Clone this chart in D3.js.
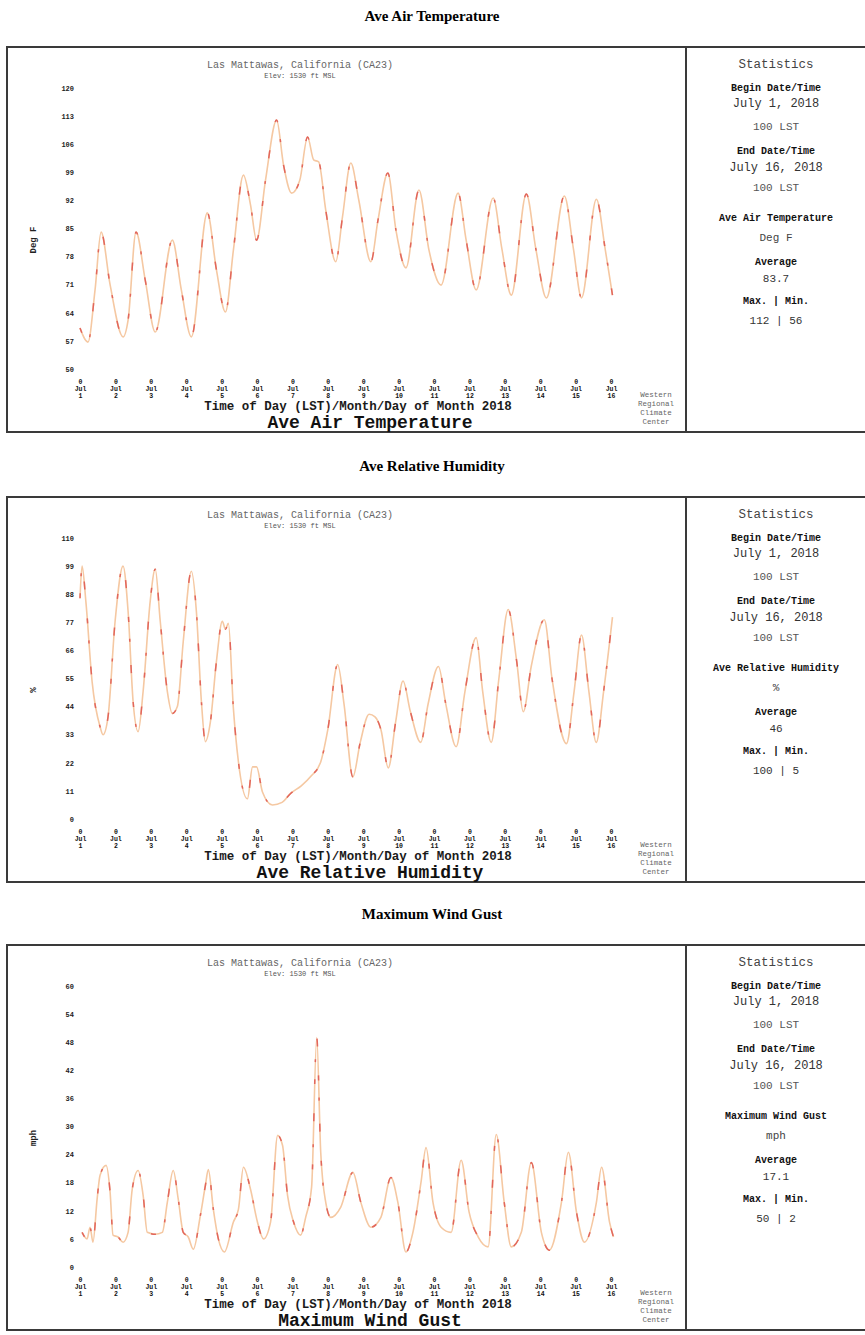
<!DOCTYPE html>
<html><head><meta charset="utf-8">
<script src="https://cdn.jsdelivr.net/npm/d3@7"></script>
<style>
html,body{margin:0;padding:0;background:#fff;}
svg{display:block;}
</style></head>
<body><svg id="c" width="865" height="1335"></svg>
<script>
// ---------- data ----------
const dayLabels = d3.range(1, 17);            // Jul 1 .. Jul 16
const dayHours = d3.range(0, 361, 24);        // hours since Jul 1 00:00
const monthLabel = "Jul";
const hourLabel = "0";

const tempTicks = [50, 57, 64, 71, 78, 85, 92, 99, 106, 113, 120];
const rhTicks = [0, 11, 22, 33, 44, 55, 66, 77, 88, 99, 110];
const windTicks = [0, 6, 12, 18, 24, 30, 36, 42, 48, 54, 60];

const tempHours = [0,5.4,10.2,14.3,20.4,29.2,32.6,38,44.2,51,62.6,68.7,75.5,86.3,92.5,98.6,104,110.8,115.6,119.7,125.8,133.3,138,143.5,149,154.3,158.4,161.8,166.6,173.4,178,183.6,189,197.2,202,208.7,214.2,221,229.8,236.6,244.8,256.3,261.8,268.6,280.1,286,292.4,302.6,309,316.2,328.4,334.5,340,350.1,356,361];
const tempValues = [60.2,56.7,69.7,84.1,71,58,62.2,84.1,72.2,59.2,82.1,69.7,58,88.9,74.7,64.2,79.6,98.3,90.9,82.1,97.1,112,100.8,93.8,97,107.8,102.1,101.6,89.6,76.7,88,101.3,92.1,76.7,87,98.8,84.6,75.2,94.6,79.6,70.9,93.8,82.1,69.7,92.6,80,68.4,93.6,80,67.7,93.1,80,67.7,92.3,80,68.4];

const rhHours = [0,1.4,4,8.2,13.6,15.6,19,23.8,29.2,32.6,36,39.4,42.8,47.6,51,54.4,59.2,62.6,66,70,75.5,78.9,82.3,85,88.4,92.5,96.5,98.6,100.6,104,107.4,113.5,117,119.7,123.7,130.5,137,142.8,150,157,163,168,174.7,179,185,190,196,200,204,209,214,219,224,231,236,243,248,255,261,268.6,273,278.8,284,290.3,296,300.5,306,314.8,320,329.8,335,340,345,350,355,361];
const rhValues = [86.4,99,85,53.8,36.1,33,40,77.4,99,81.3,46,34.2,50,85.3,97.8,77.4,50,41.3,44,69.5,97,81.3,46,30.3,38,61.7,77.4,74.3,76.6,43.2,22.4,7.9,20.4,20.4,10.6,5.5,6.5,10,13,17,22,35,60.5,45,16.5,30,41,40,35,20,38,54,42,30,45,59.7,45,28.3,50,71,50,30,55,82,62,42,60,78,55,29.5,50,72,50,30,50,79];

const windHours = [1.4,4.8,6.8,8.8,11.6,13.6,17.7,20.4,22.4,25.8,29.2,32.6,35.4,39.4,42.8,45.6,51,55.8,59.2,63.2,66.6,70,73.4,76.8,81.6,85,87,90.4,93.8,97.9,104,107.4,110.8,115.6,120.3,124.4,129.2,134,137.3,140.7,144.8,149.6,153,157,160.5,163.2,166.6,170,176.8,185,190.4,197.2,204,210.8,215.5,221,225.7,231.2,234.6,239.3,244.8,251.6,258.4,263.8,270,276.7,282.2,287.6,292.4,299.2,306,312.8,318.2,326.4,331.1,336.6,342,350.1,353.6,359,361.7];
const windValues = [7.4,6,8.5,5.3,14.5,19.6,21.7,16,6.8,6.4,5.3,7.4,16.6,20.6,15.3,7.4,7,7.4,13.8,20.6,14.5,7.4,6.4,3.8,11,17.4,20.8,12.3,6,3.2,9.6,12.3,21.3,16.6,9.6,6,9.6,28.1,26,15.3,9.6,6.8,10.6,17,49,24.5,13.8,10.6,12.8,20.2,13.8,8.5,10.6,19.1,13.8,3.2,7.4,18.1,25.5,13.8,8.5,7.4,22.8,11.7,6.4,4.3,28.3,13.8,4.3,7.4,22.3,7.4,3.6,13.8,24.5,11.7,5.3,13.8,21.3,9.6,6.4];

const panelTitles = ["Ave Air Temperature", "Ave Relative Humidity", "Maximum Wind Gust"];
const unitLabels = ["Deg F", "%", "mph"];
const averages = ["83.7", "46", "17.1"];
const maxMins = ["112 | 56", "100 | 5", "50 | 2"];
const stationLine = "Las Mattawas, California (CA23)";
const elevLine = "Elev: 1530 ft MSL";
const beginDate = "July 1, 2018";
const endDate = "July 16, 2018";
const timeLST = "100 LST";
const xTitle = "Time of Day (LST)/Month/Day of Month 2018";
const centerLines = ["Western", "Regional", "Climate", "Center"];

// ---------- drawing ----------
const svg = d3.select("#c");
const mono = "'Liberation Mono','DejaVu Sans Mono',monospace";
const serif = "'Liberation Serif','Times New Roman',serif";

const x = d3.scaleLinear().domain([0, 360]).range([80, 611]);

function drawPanel(i, top, ticks, hours, values) {
  const g = svg.append("g");
  g.append("text").attr("x", 432).attr("y", top - 26).attr("text-anchor", "middle")
    .attr("font-family", serif).attr("font-weight", "bold").attr("font-size", 15)
    .text(panelTitles[i]);
  g.append("rect").attr("x", 7).attr("y", top).attr("width", 870).attr("height", 385)
    .attr("fill", "none").attr("stroke", "#3a3a3a").attr("stroke-width", 2);
  g.append("line").attr("x1", 686).attr("x2", 686).attr("y1", top).attr("y2", top + 385)
    .attr("stroke", "#3a3a3a").attr("stroke-width", 2);

  g.append("text").attr("x", 300).attr("y", top + 21).attr("text-anchor", "middle")
    .attr("font-family", mono).attr("font-size", 10).attr("fill", "#666").text(stationLine);
  g.append("text").attr("x", 300).attr("y", top + 31).attr("text-anchor", "middle")
    .attr("font-family", mono).attr("font-size", 7).attr("fill", "#555").text(elevLine);

  const y = d3.scaleLinear().domain([ticks[0], ticks[ticks.length - 1]]).range([top + 322, top + 41]);

  const ya = g.append("g").attr("transform", "translate(74,0)")
    .call(d3.axisLeft(y).tickValues(ticks).tickSize(0).tickPadding(0));
  ya.select(".domain").remove();
  ya.selectAll("text").attr("font-family", mono).attr("font-size", 7).attr("font-weight", "bold").attr("fill", "#222");

  const xa = g.append("g").attr("transform", `translate(0,${top + 333})`)
    .call(d3.axisBottom(x).tickValues(dayHours).tickSize(0).tickPadding(0).tickFormat(""));
  xa.select(".domain").remove();
  xa.selectAll(".tick").each(function (d, j) {
    const t = d3.select(this).append("text").attr("fill", "#111")
      .attr("font-family", mono).attr("font-size", 6.5).attr("font-weight", "bold")
      .attr("text-anchor", "middle");
    t.append("tspan").attr("x", 0).attr("y", 4).text(hourLabel);
    t.append("tspan").attr("x", 0).attr("y", 11).text(monthLabel);
    t.append("tspan").attr("x", 0).attr("y", 18).text(dayLabels[j]);
  });

  g.append("text").attr("transform", `translate(36,${top + 193}) rotate(-90)`)
    .attr("text-anchor", "middle").attr("font-family", mono).attr("font-weight", "bold")
    .attr("font-size", 9).attr("fill", "#222").text(unitLabels[i]);

  g.append("text").attr("x", 358).attr("y", top + 363).attr("text-anchor", "middle")
    .attr("font-family", mono).attr("font-weight", "bold").attr("font-size", 12.5)
    .attr("fill", "#1a1a1a").text(xTitle);
  g.append("text").attr("x", 370).attr("y", top + 381).attr("text-anchor", "middle")
    .attr("font-family", mono).attr("font-weight", "bold").attr("font-size", 18)
    .attr("fill", "#111").text(panelTitles[i]);

  centerLines.forEach((s, k) => {
    g.append("text").attr("x", 656).attr("y", top + 350 + k * 9).attr("text-anchor", "middle")
      .attr("font-family", mono).attr("font-size", 7.5).attr("fill", "#666").text(s);
  });

  const data = hours.map((h, k) => [h, values[k]]);
  const line = d3.line().x(d => x(d[0])).y(d => y(d[1])).curve(d3.curveMonotoneX);
  g.append("path").datum(data).attr("d", line).attr("fill", "none")
    .attr("stroke", "#f5c8a2").attr("stroke-width", 1.6);
  g.append("path").datum(data).attr("d", line).attr("fill", "none")
    .attr("stroke", "#e2665c").attr("stroke-width", 1.5).attr("stroke-dasharray", "5 17 3 23 8 29");

  const sx = 776;
  const stat = [
    [17, "Statistics", 12.5, "normal", "#444"],
    [40, "Begin Date/Time", 10, "bold", "#111"],
    [56, beginDate, 12, "normal", "#333"],
    [79, timeLST, 11, "normal", "#555"],
    [103, "End Date/Time", 10, "bold", "#111"],
    [120, endDate, 12, "normal", "#333"],
    [140, timeLST, 11, "normal", "#555"],
    [170, panelTitles[i], 10, "bold", "#111"],
    [190, unitLabels[i], 11, "normal", "#444"],
    [214, "Average", 10, "bold", "#111"],
    [231, averages[i], 11, "normal", "#333"],
    [253, "Max. | Min.", 10, "bold", "#111"],
    [273, maxMins[i], 11, "normal", "#333"]
  ];
  stat.forEach(s => {
    g.append("text").attr("x", sx).attr("y", top + s[0] + 4).attr("text-anchor", "middle")
      .attr("font-family", mono).attr("font-size", s[2]).attr("font-weight", s[3])
      .attr("fill", s[4]).text(s[1]);
  });
}

drawPanel(0, 47, tempTicks, tempHours, tempValues);
drawPanel(1, 497, rhTicks, rhHours, rhValues);
drawPanel(2, 945, windTicks, windHours, windValues);
</script>
</body></html>
